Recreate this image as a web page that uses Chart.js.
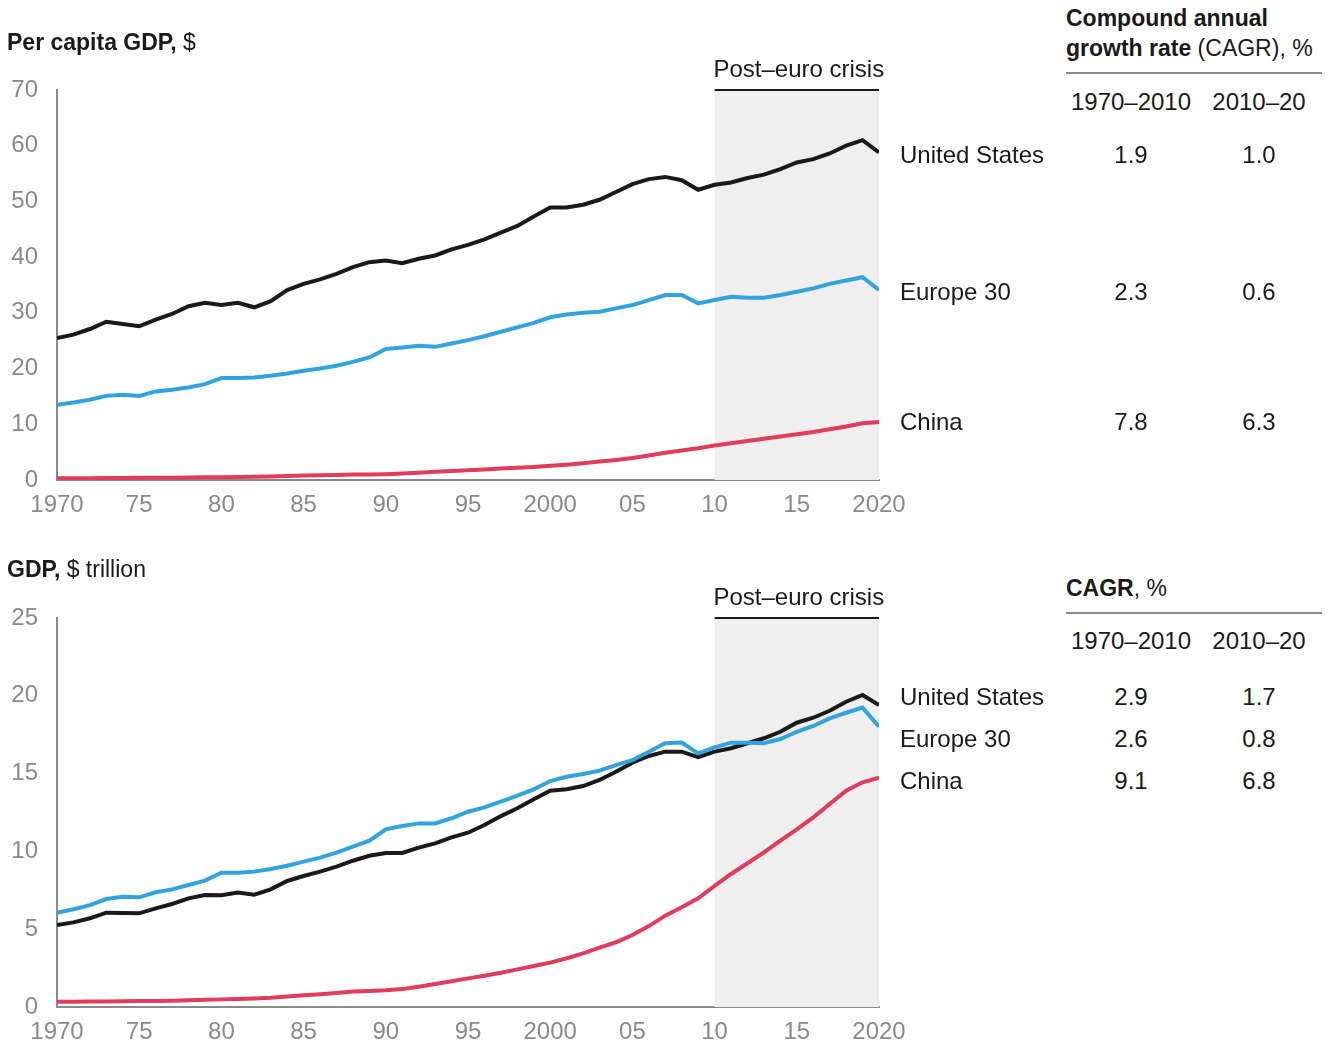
<!DOCTYPE html>
<html>
<head>
<meta charset="utf-8">
<script src="https://cdn.jsdelivr.net/npm/chart.js@4.4.1/dist/chart.umd.min.js"></script>
<style>
  body { margin: 0; background: #fff; font-family: "Liberation Sans", Arial, sans-serif; color: #1a1a1a; }
  #page { position: relative; width: 1330px; height: 1045px; overflow: hidden; }
  canvas { position: absolute; left: 0; }
  .t { position: absolute; white-space: nowrap; font-size: 24px; line-height: 28px; transform: translateY(-50%); }
  .c { transform: translate(-50%, -50%); }
  .h { font-size: 23px; }
  .b { font-weight: bold; }
  .rule { position: absolute; left: 1066px; width: 256px; height: 2px; background: #8a8a8a; }
</style>
</head>
<body>
<div id="page">
  <canvas id="top" width="920" height="530" style="top:0"></canvas>
  <canvas id="bottom" width="920" height="517" style="top:528px"></canvas>

  <div class="t h" style="left:7px;top:42px"><span class="b">Per capita GDP,</span> $</div>
  <div class="t h" style="left:1066px;top:18px"><span class="b">Compound annual</span></div>
  <div class="t h" style="left:1066px;top:48px"><span class="b">growth rate</span> (CAGR), %</div>
  <div class="rule" style="top:72px"></div>
  <div class="t c" style="left:1131px;top:102px">1970–2010</div>
  <div class="t c" style="left:1259px;top:102px">2010–20</div>
  <div class="t" style="left:900px;top:155px">United States</div>
  <div class="t" style="left:900px;top:292px">Europe 30</div>
  <div class="t" style="left:900px;top:422px">China</div>
  <div class="t c" style="left:1131px;top:155px">1.9</div>
  <div class="t c" style="left:1259px;top:155px">1.0</div>
  <div class="t c" style="left:1131px;top:292px">2.3</div>
  <div class="t c" style="left:1259px;top:292px">0.6</div>
  <div class="t c" style="left:1131px;top:422px">7.8</div>
  <div class="t c" style="left:1259px;top:422px">6.3</div>

  <div class="t h" style="left:7px;top:569px"><span class="b">GDP,</span> $ trillion</div>
  <div class="t h" style="left:1066px;top:588px"><span class="b">CAGR</span>, %</div>
  <div class="rule" style="top:612px"></div>
  <div class="t c" style="left:1131px;top:641px">1970–2010</div>
  <div class="t c" style="left:1259px;top:641px">2010–20</div>
  <div class="t" style="left:900px;top:697px">United States</div>
  <div class="t" style="left:900px;top:739px">Europe 30</div>
  <div class="t" style="left:900px;top:781px">China</div>
  <div class="t c" style="left:1131px;top:697px">2.9</div>
  <div class="t c" style="left:1259px;top:697px">1.7</div>
  <div class="t c" style="left:1131px;top:739px">2.6</div>
  <div class="t c" style="left:1259px;top:739px">0.8</div>
  <div class="t c" style="left:1131px;top:781px">9.1</div>
  <div class="t c" style="left:1259px;top:781px">6.8</div>
</div>
<script>
const years = [];
for (let y = 1970; y <= 2020; y++) years.push(y);

const xTickLabels = { 1970: '1970', 1975: '75', 1980: '80', 1985: '85', 1990: '90', 1995: '95',
  2000: '2000', 2005: '05', 2010: '10', 2015: '15', 2020: '2020' };

// per capita GDP, $ thousand
const usPerCapita = [25.5, 26.1, 27.1, 28.4, 28.0, 27.6, 28.8, 29.8, 31.2, 31.8,
  31.4, 31.8, 31.0, 32.1, 34.1, 35.2, 36.0, 37.0, 38.2, 39.1,
  39.4, 38.9, 39.7, 40.3, 41.4, 42.2, 43.2, 44.4, 45.6, 47.3,
  48.9, 48.9, 49.4, 50.3, 51.7, 53.1, 54.0, 54.4, 53.8, 52.1,
  53.0, 53.4, 54.2, 54.8, 55.8, 57.0, 57.6, 58.6, 60.0, 61.0, 58.8];
const europePerCapita = [13.5, 13.9, 14.4, 15.1, 15.3, 15.1, 15.9, 16.2, 16.6, 17.2,
  18.3, 18.3, 18.4, 18.7, 19.1, 19.6, 20.0, 20.5, 21.2, 22.0,
  23.5, 23.8, 24.1, 23.9, 24.5, 25.1, 25.8, 26.6, 27.4, 28.2,
  29.2, 29.7, 30.0, 30.2, 30.8, 31.4, 32.3, 33.2, 33.2, 31.7,
  32.3, 32.9, 32.7, 32.7, 33.2, 33.8, 34.4, 35.2, 35.8, 36.4, 34.1];
const chinaPerCapita = [0.3, 0.3, 0.3, 0.35, 0.35, 0.4, 0.4, 0.4, 0.45, 0.5,
  0.5, 0.55, 0.6, 0.65, 0.7, 0.8, 0.85, 0.9, 1.0, 1.0,
  1.05, 1.15, 1.3, 1.5, 1.6, 1.75, 1.9, 2.05, 2.2, 2.35,
  2.55, 2.75, 3.0, 3.3, 3.6, 3.95, 4.4, 4.9, 5.3, 5.7,
  6.2, 6.6, 7.0, 7.4, 7.8, 8.2, 8.6, 9.1, 9.6, 10.2, 10.4];

// GDP, $ trillion
const usGdp = [5.27, 5.44, 5.70, 6.06, 6.04, 6.02, 6.34, 6.62, 6.98, 7.20,
  7.18, 7.35, 7.22, 7.56, 8.10, 8.42, 8.70, 9.02, 9.40, 9.72,
  9.90, 9.90, 10.24, 10.52, 10.90, 11.2, 11.7, 12.27, 12.77, 13.35,
  13.9, 13.99, 14.2, 14.59, 15.12, 15.7, 16.13, 16.41, 16.41, 16.05,
  16.41, 16.63, 16.95, 17.27, 17.69, 18.27, 18.59, 19.04, 19.62, 20.05, 19.4];
const europeGdp = [6.06, 6.28, 6.55, 6.94, 7.09, 7.05, 7.37, 7.56, 7.84, 8.12,
  8.63, 8.63, 8.70, 8.87, 9.08, 9.34, 9.60, 9.92, 10.3, 10.69,
  11.42, 11.63, 11.8, 11.8, 12.13, 12.55, 12.83, 13.2, 13.58, 13.99,
  14.52, 14.8, 14.97, 15.19, 15.55, 15.87, 16.41, 16.95, 17.0, 16.3,
  16.69, 16.99, 16.99, 16.95, 17.22, 17.69, 18.06, 18.55, 18.91, 19.24, 18.01];
const chinaGdp = [0.33, 0.34, 0.35, 0.36, 0.37, 0.38, 0.38, 0.40, 0.43, 0.46,
  0.49, 0.51, 0.55, 0.59, 0.67, 0.75, 0.82, 0.90, 1.0, 1.03,
  1.07, 1.15, 1.3, 1.48, 1.65, 1.84, 2.01, 2.2, 2.42, 2.63,
  2.85, 3.13, 3.45, 3.81, 4.16, 4.63, 5.2, 5.87, 6.41, 6.99,
  7.78, 8.55, 9.24, 9.94, 10.69, 11.42, 12.19, 13.05, 13.9, 14.44, 14.74];

const crisisStart = 2010, crisisEnd = 2020;
const BLACK = '#1a1a1a', BLUE = '#31a4e0', RED = '#e33b5c', GRAY = '#8a8a8a';
const FONT = '"Liberation Sans", Arial, sans-serif';

const crisisBand = {
  id: 'crisisBand',
  beforeDatasetsDraw(chart) {
    const { ctx, chartArea, scales } = chart;
    const x0 = scales.x.getPixelForValue(crisisStart);
    const x1 = scales.x.getPixelForValue(crisisEnd);
    ctx.save();
    ctx.fillStyle = '#efefef';
    ctx.fillRect(x0, chartArea.top, x1 - x0, chartArea.bottom - chartArea.top);
    ctx.restore();
  },
  afterDraw(chart) {
    const { ctx, chartArea, scales } = chart;
    const x0 = scales.x.getPixelForValue(crisisStart);
    const x1 = scales.x.getPixelForValue(crisisEnd);
    ctx.save();
    ctx.strokeStyle = BLACK;
    ctx.lineWidth = 2;
    ctx.beginPath();
    ctx.moveTo(x0, chartArea.top);
    ctx.lineTo(x1, chartArea.top);
    ctx.stroke();
    ctx.fillStyle = BLACK;
    ctx.font = '24px ' + FONT;
    ctx.textAlign = 'center';
    ctx.textBaseline = 'middle';
    ctx.fillText('Post–euro crisis', (x0 + x1) / 2 + 2, chartArea.top - 20);
    ctx.restore();
  }
};

function series(values, color) {
  return {
    data: values.map((v, i) => ({ x: years[i], y: v })),
    borderColor: color,
    borderWidth: 4,
    pointRadius: 0,
    tension: 0,
    fill: false
  };
}

function makeChart(id, datasets, yMax, yStep, xAxisH) {
  return new Chart(document.getElementById(id), {
    type: 'line',
    data: { datasets: datasets },
    plugins: [crisisBand],
    options: {
      responsive: false,
      animation: false,
      layout: { padding: { top: 90, right: 41, left: 0, bottom: 0 } },
      plugins: { legend: { display: false }, tooltip: { enabled: false } },
      scales: {
        x: {
          type: 'linear', min: 1970, max: 2020,
          afterFit(s) { s.height = xAxisH; },
          grid: { display: false, drawTicks: false },
          border: { display: true, color: GRAY, width: 2 },
          ticks: {
            stepSize: 5, padding: 11, color: GRAY, maxRotation: 0, autoSkip: false,
            font: { family: FONT, size: 24 },
            callback: v => xTickLabels[v] || ''
          }
        },
        y: {
          min: 0, max: yMax,
          afterFit(s) { s.width = 57; },
          grid: { display: false, drawTicks: false },
          border: { display: true, color: GRAY, width: 2 },
          ticks: {
            stepSize: yStep, padding: 19, color: GRAY,
            font: { family: FONT, size: 24 }
          }
        }
      }
    }
  });
}

makeChart('top', [series(chinaPerCapita, RED), series(europePerCapita, BLUE), series(usPerCapita, BLACK)], 70, 10, 50);
makeChart('bottom', [series(chinaGdp, RED), series(europeGdp, BLUE), series(usGdp, BLACK)], 25, 5, 38);
</script>
</body>
</html>
